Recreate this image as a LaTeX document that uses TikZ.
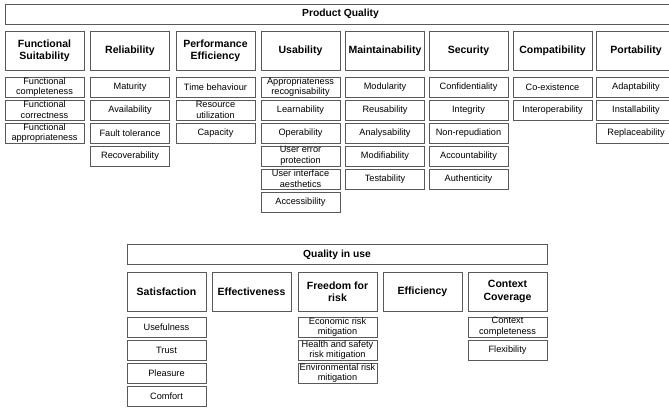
\documentclass[tikz,border=0pt]{standalone}
\usepackage{fontspec}
\setmainfont{Liberation Sans}
\usetikzlibrary{positioning}

\tikzset{
  bar/.style={draw=black!65, line width=0.8pt, minimum height=20pt, inner sep=0pt,
    font=\bfseries\fontsize{10.3}{12}\selectfont},
  charbox/.style={draw=black!65, line width=0.8pt, minimum width=79pt, minimum height=39pt,
    inner sep=0pt, align=center, font=\bfseries\fontsize{10.5}{12.3}\selectfont},
  subbox/.style={draw=black!65, line width=0.8pt, minimum width=79pt, minimum height=20pt,
    inner sep=0pt, align=center, font=\fontsize{9.2}{10.6}\selectfont},
}

\begin{document}
\begin{tikzpicture}[x=1pt, y=-1pt, node distance=2.2pt]
  \useasboundingbox (0,0) rectangle (669,411);

  % product quality
  \node[bar, minimum width=671pt] (pq) at (340.5,14) {Product Quality};

  \node[charbox] (fs)  at (44.5,50.5)  {Functional\\Suitability};
  \node[charbox] (rel) at (130,50.5)   {Reliability};
  \node[charbox] (pe)  at (215.5,50.5) {Performance\\Efficiency};
  \node[charbox] (usa) at (300.5,50.5) {Usability};
  \node[charbox] (mai) at (385,50.5)   {Maintainability};
  \node[charbox] (sec) at (468.5,50.5) {Security};
  \node[charbox] (com) at (552.5,50.5) {Compatibility};
  \node[charbox] (por) at (636,50.5)   {Portability};

  \node[subbox, below=6.2pt of fs] (fs1) {Functional\\completeness};
  \node[subbox, below=of fs1] (fs2) {Functional\\correctness};
  \node[subbox, below=of fs2] (fs3) {Functional\\appropriateness};

  \node[subbox, below=6.2pt of rel] (rel1) {Maturity};
  \node[subbox, below=of rel1] (rel2) {Availability};
  \node[subbox, below=of rel2] (rel3) {Fault tolerance};
  \node[subbox, below=of rel3] (rel4) {Recoverability};

  \node[subbox, below=6.2pt of pe] (pe1) {Time behaviour};
  \node[subbox, below=of pe1] (pe2) {Resource\\utilization};
  \node[subbox, below=of pe2] (pe3) {Capacity};

  \node[subbox, below=6.2pt of usa] (usa1) {Appropriateness\\recognisability};
  \node[subbox, below=of usa1] (usa2) {Learnability};
  \node[subbox, below=of usa2] (usa3) {Operability};
  \node[subbox, below=of usa3] (usa4) {User error\\protection};
  \node[subbox, below=of usa4] (usa5) {User interface\\aesthetics};
  \node[subbox, below=of usa5] (usa6) {Accessibility};

  \node[subbox, below=6.2pt of mai] (mai1) {Modularity};
  \node[subbox, below=of mai1] (mai2) {Reusability};
  \node[subbox, below=of mai2] (mai3) {Analysability};
  \node[subbox, below=of mai3] (mai4) {Modifiability};
  \node[subbox, below=of mai4] (mai5) {Testability};

  \node[subbox, below=6.2pt of sec] (sec1) {Confidentiality};
  \node[subbox, below=of sec1] (sec2) {Integrity};
  \node[subbox, below=of sec2] (sec3) {Non-repudiation};
  \node[subbox, below=of sec3] (sec4) {Accountability};
  \node[subbox, below=of sec4] (sec5) {Authenticity};

  \node[subbox, below=6.2pt of com] (com1) {Co-existence};
  \node[subbox, below=of com1] (com2) {Interoperability};

  \node[subbox, below=6.2pt of por] (por1) {Adaptability};
  \node[subbox, below=of por1] (por2) {Installability};
  \node[subbox, below=of por2] (por3) {Replaceability};

  % quality in use
  \node[bar, minimum width=420pt] (qiu) at (337,254.5) {Quality in use};

  \node[charbox] (sat)  at (166.5,291.5) {Satisfaction};
  \node[charbox] (eff)  at (251.5,291.5) {Effectiveness};
  \node[charbox] (ffr)  at (337.5,291.5) {Freedom for\\risk};
  \node[charbox] (effi) at (422.5,291.5) {Efficiency};
  \node[charbox] (cc)   at (507.5,291.5) {Context\\Coverage};

  \node[subbox, below=5.2pt of sat] (sat1) {Usefulness};
  \node[subbox, below=of sat1] (sat2) {Trust};
  \node[subbox, below=of sat2] (sat3) {Pleasure};
  \node[subbox, below=of sat3] (sat4) {Comfort};

  \node[subbox, below=5.2pt of ffr] (ffr1) {Economic risk\\mitigation};
  \node[subbox, below=of ffr1] (ffr2) {Health and safety\\risk mitigation};
  \node[subbox, below=of ffr2] (ffr3) {Environmental risk\\mitigation};

  \node[subbox, below=5.2pt of cc] (cc1) {Context\\completeness};
  \node[subbox, below=of cc1] (cc2) {Flexibility};
\end{tikzpicture}
\end{document}
